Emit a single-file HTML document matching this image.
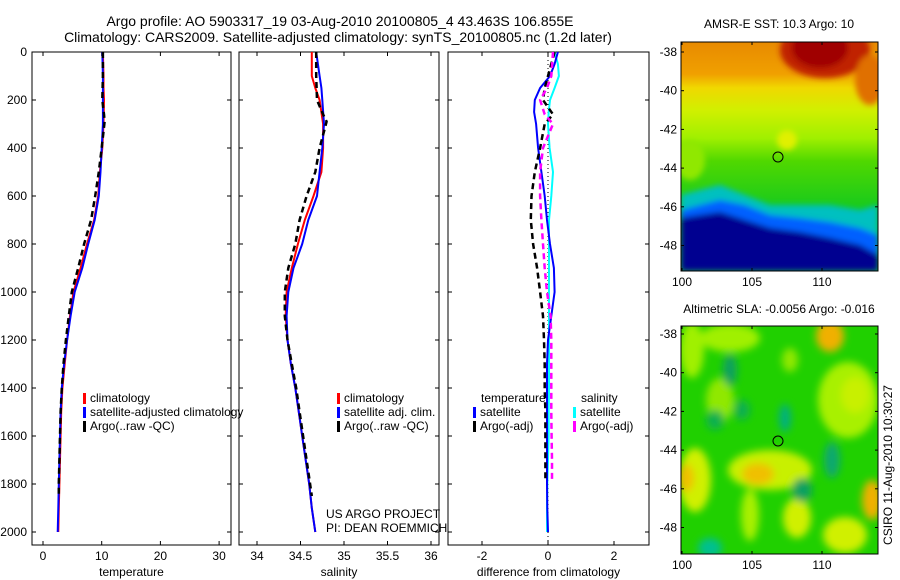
<!DOCTYPE html>
<html><head><meta charset="utf-8">
<style>
body{margin:0;background:#fff;}
svg{display:block;font-family:"Liberation Sans",sans-serif;}
text{font-size:12px;fill:#000;}
</style></head>
<body>
<svg id="chart" width="900" height="580" viewBox="0 0 900 580" xmlns="http://www.w3.org/2000/svg">
<defs>
<filter id="blur1" x="-20%" y="-20%" width="140%" height="140%"><feGaussianBlur stdDeviation="3"/></filter>
<filter id="blur2" x="-50%" y="-50%" width="200%" height="200%"><feGaussianBlur stdDeviation="4"/></filter>
<clipPath id="clipA"><rect x="681" y="42" width="197" height="229"/></clipPath>
<clipPath id="clipB"><rect x="681" y="326" width="197" height="228"/></clipPath>
<linearGradient id="sstGrad" x1="0" y1="0" x2="0" y2="1">
<stop offset="0" stop-color="#e88a00"/><stop offset="0.14" stop-color="#f0a000"/>
<stop offset="0.2" stop-color="#f0d800"/><stop offset="0.3" stop-color="#d0f000"/>
<stop offset="0.42" stop-color="#a0f000"/><stop offset="0.52" stop-color="#50d800"/>
<stop offset="0.75" stop-color="#10c820"/><stop offset="1" stop-color="#10c040"/>
</linearGradient>
</defs>
<text x="340" y="26" text-anchor="middle" style="font-size:14px">Argo profile: AO 5903317_19 03-Aug-2010 20100805_4 43.463S 106.855E</text>
<text x="338" y="42" text-anchor="middle" style="font-size:14px">Climatology: CARS2009. Satellite-adjusted climatology: synTS_20100805.nc (1.2d later)</text>

<!-- SST map -->
<g>
<g clip-path="url(#clipA)">
<rect x="681" y="42" width="197" height="229" fill="url(#sstGrad)"/>
<g filter="url(#blur1)">
<ellipse cx="825" cy="50" rx="45" ry="28" fill="#c02000"/>
<ellipse cx="820" cy="48" rx="28" ry="20" fill="#a00000"/>
<ellipse cx="870" cy="80" rx="15" ry="25" fill="#e07000"/>
<ellipse cx="787" cy="140" rx="10" ry="10" fill="#e0f000"/>
<ellipse cx="690" cy="160" rx="15" ry="20" fill="#90e800"/>
<polygon points="681,195 700,190 720,185 745,195 770,205 800,205 830,205 860,210 878,205 878,240 681,240" fill="#00c0c0"/>
<polygon points="681,210 700,205 720,200 745,205 770,215 800,218 830,222 860,228 878,235 878,271 681,271" fill="#0060ff"/>
<polygon points="681,218 700,215 720,212 745,220 770,228 800,232 830,238 860,245 878,255 878,271 681,271" fill="#000090"/>
</g>
</g>
<rect x="681" y="42" width="197" height="229" fill="none" stroke="#000" stroke-width="1"/>
<circle cx="778" cy="157" r="5" fill="none" stroke="#000"/>
</g>
<text x="779" y="28" text-anchor="middle">AMSR-E SST: 10.3 Argo: 10</text>

<!-- SLA map -->
<g>
<g clip-path="url(#clipB)">
<rect x="681" y="326" width="197" height="228" fill="#20d000"/>
<g filter="url(#blur2)">
<ellipse cx="692" cy="350" rx="12" ry="28" fill="#a0f000"/>
<ellipse cx="730" cy="338" rx="30" ry="14" fill="#a0f000"/>
<ellipse cx="695" cy="480" rx="16" ry="32" fill="#d0f000"/>
<ellipse cx="686" cy="478" rx="8" ry="14" fill="#f0c000"/>
<ellipse cx="770" cy="470" rx="42" ry="20" fill="#c8f000"/>
<ellipse cx="758" cy="474" rx="16" ry="11" fill="#f0c000"/>
<ellipse cx="830" cy="336" rx="14" ry="16" fill="#f0b000"/>
<ellipse cx="848" cy="400" rx="30" ry="38" fill="#a8f000"/>
<ellipse cx="855" cy="395" rx="14" ry="18" fill="#c8f000"/>
<ellipse cx="872" cy="500" rx="10" ry="20" fill="#f0b000"/>
<ellipse cx="845" cy="535" rx="22" ry="18" fill="#d0f000"/>
<ellipse cx="797" cy="518" rx="14" ry="20" fill="#d0f000"/>
<ellipse cx="750" cy="515" rx="9" ry="26" fill="#a8f000"/>
<ellipse cx="720" cy="400" rx="14" ry="22" fill="#90e800"/>
<ellipse cx="790" cy="360" rx="8" ry="12" fill="#90e800"/>
<ellipse cx="730" cy="370" rx="7" ry="16" fill="#10a060"/>
<ellipse cx="785" cy="418" rx="6" ry="14" fill="#00b080"/>
<ellipse cx="832" cy="460" rx="8" ry="18" fill="#10a870"/>
<ellipse cx="802" cy="490" rx="10" ry="12" fill="#10a060"/>
<ellipse cx="710" cy="548" rx="12" ry="10" fill="#00c090"/>
<ellipse cx="715" cy="420" rx="9" ry="10" fill="#10b050"/>
<ellipse cx="742" cy="410" rx="8" ry="10" fill="#10b050"/>
</g>
</g>
<rect x="681" y="326" width="197" height="228" fill="none" stroke="#000" stroke-width="1"/>
<circle cx="778" cy="441" r="5" fill="none" stroke="#000"/>
</g>
<text x="779" y="313" text-anchor="middle">Altimetric SLA: -0.0056 Argo: -0.016</text>
<text transform="translate(892,465) rotate(-90)" text-anchor="middle">CSIRO 11-Aug-2010 10:30:27</text>

<text x="326" y="518">US ARGO PROJECT</text>
<text x="326" y="532">PI: DEAN ROEMMICH</text>
<g id="dyn"></g>
</svg>
<script>
// depth levels (dbar)
const depthClim = [0,100,150,200,300,400,500,600,700,800,900,1000,1100,1200,1300,1400,1500,1600,1700,1800,1900,2000];
const tempClim  = [10.2,10.3,10.3,10.4,10.3,10.1,9.7,9.4,8.7,7.5,6.4,5.2,4.6,4.1,3.7,3.3,3.1,3.0,2.9,2.8,2.7,2.6];
const tempSat   = [10.1,10.2,10.2,10.2,10.2,10.0,9.8,9.5,8.8,7.7,6.7,5.4,4.7,4.1,3.6,3.2,3.0,2.9,2.8,2.7,2.6,2.5];
const salClim   = [34.63,34.63,34.67,34.72,34.76,34.76,34.74,34.65,34.55,34.47,34.40,34.34,34.33,34.35,34.39,34.44,34.48,34.52,34.56,34.60,34.63,34.67];
const salSat    = [34.68,34.72,34.74,34.75,34.77,34.75,34.72,34.69,34.59,34.52,34.42,34.36,34.34,34.35,34.39,34.44,34.48,34.52,34.56,34.60,34.63,34.67];
const depthArgo = [0,100,200,260,290,400,500,600,700,800,900,1000,1100,1200,1300,1400,1500,1600,1700,1800,1850];
const tempArgo  = [10.2,10.2,10.1,10.4,10.5,10.0,9.5,8.9,8.2,7.0,6.0,4.9,4.4,3.9,3.5,3.2,3.0,2.9,2.8,2.7,2.7];
const salArgo   = [34.68,34.68,34.69,34.76,34.80,34.72,34.67,34.57,34.49,34.44,34.36,34.32,34.32,34.35,34.40,34.45,34.49,34.53,34.57,34.61,34.63];
const depthDiff = [0,50,100,150,200,250,300,400,500,600,700,800,900,1000,1100,1200,1300,1400,1500,1600,1700,1800,1900,2000];
const dTempSat  = [0.3,0.2,0.06,-0.24,-0.4,-0.42,-0.36,-0.3,-0.2,-0.1,-0.03,0.06,0.18,0.2,0.1,0,-0.03,-0.03,-0.03,-0.03,-0.03,-0.03,-0.02,0];
const dSalSat   = [0.2,0.3,0.33,0.2,0.06,0.02,0,0.05,0.15,0.1,0.03,0.03,0.03,0.03,0.03,0.03,0.03,0.03,0.02,0.02,0.0,-0.02,-0.03,-0.03];
const depthDiffArgo = [0,100,150,200,260,300,400,500,600,700,800,900,1000,1100,1200,1300,1400,1500,1600,1700,1780];
const dTempArgo = [0.2,0,-0.1,-0.15,0.15,-0.1,-0.24,-0.4,-0.5,-0.52,-0.45,-0.33,-0.24,-0.15,-0.12,-0.1,-0.1,-0.08,-0.08,-0.08,-0.08];
const dSalArgo  = [0.15,0.1,-0.03,-0.24,-0.1,0.15,-0.15,-0.24,-0.24,-0.2,-0.15,-0.1,-0.03,0.08,0.1,0.1,0.1,0.1,0.11,0.12,0.12];
const depthTicks = [0,200,400,600,800,1000,1200,1400,1600,1800,2000];
const tempTicks = [0,10,20,30];
const salTicks = [34,34.5,35,35.5,36];
const diffTicks = [-2,0,2];
const latTicks = [-38,-40,-42,-44,-46,-48];
const lonTicks = [100,105,110];

const NS='http://www.w3.org/2000/svg';
const root=document.getElementById('dyn');
function mk(tag,attrs,parent){const e=document.createElementNS(NS,tag);for(const k in attrs)e.setAttribute(k,attrs[k]);(parent||root).appendChild(e);return e;}
const yD = z => 52 + 0.24*z;
const TOP=52, BOT=545;

const panels = [
 {name:'temperature', L:32, R:231, x:v=>43+5.87*v, ticks:tempTicks, label:'temperature', fmt:v=>String(v)},
 {name:'salinity', L:239, R:439, x:v=>257+87*(v-34), ticks:salTicks, label:'salinity', fmt:v=>String(v)},
 {name:'difference', L:448, R:649, x:v=>548+33*v, ticks:diffTicks, label:'difference from climatology', fmt:v=>String(v)}
];
panels.forEach((p,i)=>{
  const g=mk('g',{});
  
  
  const box=mk('rect',{x:p.L,y:TOP,width:p.R-p.L,height:BOT-TOP,fill:'none',stroke:'#000','stroke-width':1},g);
  
  
  p.ticks.forEach(t=>{
    const x=p.x(t);
    mk('line',{x1:x,x2:x,y1:BOT,y2:BOT-4,stroke:'#000'},g);
    mk('line',{x1:x,x2:x,y1:TOP,y2:TOP+4,stroke:'#000'},g);
    const tl=mk('text',{x:x,y:BOT+15,'text-anchor':'middle'},g);
    tl.textContent=p.fmt(t);
    
    
  });
  depthTicks.forEach(d=>{
    const y=yD(d);
    mk('line',{x1:p.L,x2:p.L+4,y1:y,y2:y,stroke:'#000'},g);
    mk('line',{x1:p.R,x2:p.R-4,y1:y,y2:y,stroke:'#000'},g);
    if(i===0){const tl=mk('text',{x:27,y:y+4,'text-anchor':'end'},g);tl.textContent=String(d);
      
      }
  });
  const xl=mk('text',{x:(p.L+p.R)/2,y:576,'text-anchor':'middle'},g);
  xl.textContent=p.label;
  
  
});
// zero line in diff panel
const zl=mk('line',{x1:panels[2].x(0),x2:panels[2].x(0),y1:TOP,y2:BOT,stroke:'#000','stroke-dasharray':'1,3'});



function series(p,vals,depths,color,dash,name){
  const pts=vals.map((v,k)=>p.x(v).toFixed(1)+','+yD(depths[k]).toFixed(1)).join(' ');
  const a={points:pts,fill:'none',stroke:color,'stroke-width':dash?2.5:2,'stroke-linejoin':'round'};
  if(dash)a['stroke-dasharray']='6,4';
  const e=mk('polyline',a);
  
  
}
series(panels[0],tempClim,depthClim,'#ff0000',false,'temp-climatology-line');
series(panels[0],tempSat,depthClim,'#0000ff',false,'temp-satellite-line');
series(panels[0],tempArgo,depthArgo,'#000000',true,'temp-argo-line');
series(panels[1],salClim,depthClim,'#ff0000',false,'sal-climatology-line');
series(panels[1],salSat,depthClim,'#0000ff',false,'sal-satellite-line');
series(panels[1],salArgo,depthArgo,'#000000',true,'sal-argo-line');
series(panels[2],dSalSat,depthDiff,'#00ffff',false,'diff-sal-satellite-line');
series(panels[2],dTempSat,depthDiff,'#0000ff',false,'diff-temp-satellite-line');
series(panels[2],dTempArgo,depthDiffArgo,'#000000',true,'diff-temp-argo-line');
series(panels[2],dSalArgo,depthDiffArgo,'#ff00ff',true,'diff-sal-argo-line');

function legendItem(x,y,color,label){
  const g=mk('g',{});
  
  
  if(color)mk('rect',{x:x,y:y-9,width:3,height:11,fill:color},g);
  const t=mk('text',{x:x+7,y:y},g);t.textContent=label;
}
legendItem(83,402,'#ff0000','climatology');
legendItem(83,416,'#0000ff','satellite-adjusted climatology');
legendItem(83,430,'#000000','Argo(..raw -QC)');
legendItem(337,402,'#ff0000','climatology');
legendItem(337,416,'#0000ff','satellite adj. clim.');
legendItem(337,430,'#000000','Argo(..raw -QC)');
legendItem(474,402,null,'temperature');
legendItem(473,416,'#0000ff','satellite');
legendItem(473,430,'#000000','Argo(-adj)');
legendItem(574,402,null,'salinity');
legendItem(573,416,'#00ffff','satellite');
legendItem(573,430,'#ff00ff','Argo(-adj)');

// map axes
function mapAxes(top,bottom,lat0y){
  const L=681,R=878,lonX=v=>682+14*(v-100),latY=v=>lat0y+19.35*(-38-v);
  latTicks.forEach(v=>{const y=latY(v);
    mk('line',{x1:L,x2:L+3,y1:y,y2:y,stroke:'#000'});mk('line',{x1:R,x2:R-3,y1:y,y2:y,stroke:'#000'});
    const t=mk('text',{x:L-4,y:y+4,'text-anchor':'end'});t.textContent=String(v);
    
    });
  lonTicks.forEach(v=>{const x=lonX(v);
    mk('line',{x1:x,x2:x,y1:bottom,y2:bottom-3,stroke:'#000'});mk('line',{x1:x,x2:x,y1:top,y2:top+3,stroke:'#000'});
    const t=mk('text',{x:x,y:bottom+15,'text-anchor':'middle'});t.textContent=String(v);
    
    });
}
mapAxes(42,271,52);
mapAxes(326,554,334);
</script>
</body></html>
